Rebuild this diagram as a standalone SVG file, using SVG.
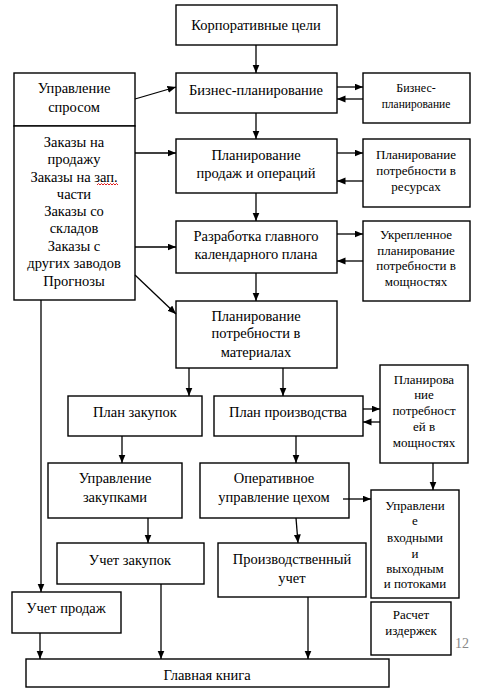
<svg xmlns="http://www.w3.org/2000/svg" width="494" height="700" viewBox="0 0 494 700">
<style>
.b{fill:#fff;stroke:#000;stroke-width:1.4}
.t{font-family:"Liberation Serif","Times New Roman",serif;font-size:14.5px;fill:#000;text-anchor:middle}
.s{font-size:13px}
.c line{stroke:#000;stroke-width:1.3}
</style>
<defs>
<marker id="a" markerUnits="userSpaceOnUse" markerWidth="9" markerHeight="8" refX="8.5" refY="3.5" orient="auto">
<path d="M0,0 L8.5,3.5 L0,7 z" fill="#000"/>
</marker>
</defs>
<rect width="494" height="700" fill="#fff"/>
<g id="corp"><rect class="b" x="176" y="5" width="161" height="40"/><text class="t" x="256" y="30">Корпоративные цели</text></g>
<g id="demand"><rect class="b" x="14" y="73" width="121" height="53"/><text class="t" x="74" y="93">Управление</text><text class="t" x="74" y="112">спросом</text></g>
<g id="orders"><rect class="b" x="14" y="126" width="121" height="174"/>
<text class="t" x="74" y="147">Заказы на</text><text class="t" x="74" y="164">продажу</text><text class="t" x="74" y="182">Заказы на зап.</text><text class="t" x="74" y="199">части</text><text class="t" x="74" y="216">Заказы со</text><text class="t" x="74" y="233">складов</text><text class="t" x="74" y="251">Заказы с</text><text class="t" x="74" y="268">других заводов</text><text class="t" x="74" y="286">Прогнозы</text>
<path d="M97,185 l1.5,-1.5 l1.5,1.5 l1.5,-1.5 l1.5,1.5 l1.5,-1.5 l1.5,1.5 l1.5,-1.5 l1.5,1.5 l1.5,-1.5 l1.5,1.5 l1.5,-1.5 l1.5,1.5 l1.5,-1.5 l1.5,1.5" fill="none" stroke="#d00" stroke-width="0.9"/></g>
<g id="bp"><rect class="b" x="176" y="73" width="161" height="40"/><text class="t" x="256" y="95">Бизнес-планирование</text></g>
<g id="bp2"><rect class="b" x="363" y="73" width="107" height="50"/><text class="t" x="416" y="92" style="font-size:12px">Бизнес-</text><text class="t" x="416" y="108" style="font-size:11.5px">планирование</text></g>
<g id="sop"><rect class="b" x="176" y="139" width="161" height="54"/><text class="t" x="256" y="160">Планирование</text><text class="t" x="256" y="178">продаж и операций</text></g>
<g id="rrp"><rect class="b" x="363" y="139" width="107" height="68"/><text class="t s" x="416" y="159">Планирование</text><text class="t s" x="416" y="175">потребности  в</text><text class="t s" x="416" y="191">ресурсах</text></g>
<g id="mps"><rect class="b" x="176" y="221" width="161" height="52"/><text class="t" x="256" y="241">Разработка главного</text><text class="t" x="256" y="259">календарного плана</text></g>
<g id="rccp"><rect class="b" x="363" y="221" width="107" height="80"/><text class="t s" x="416" y="239">Укрепленное</text><text class="t s" x="416" y="255">планирование</text><text class="t s" x="416" y="270">потребности  в</text><text class="t s" x="416" y="286">мощностях</text></g>
<g id="mrp"><rect class="b" x="176" y="301" width="161" height="67"/><text class="t" x="256" y="321">Планирование</text><text class="t" x="256" y="338">потребности в</text><text class="t" x="256" y="357">материалах</text></g>
<g id="purchplan"><rect class="b" x="68" y="396" width="134" height="40"/><text class="t" x="135" y="417">План закупок</text></g>
<g id="prodplan"><rect class="b" x="214" y="396" width="149" height="40"/><text class="t" x="288" y="417">План производства</text></g>
<g id="crp"><rect class="b" x="380" y="365" width="88" height="98"/><text class="t s" x="424" y="384">Планирова</text><text class="t s" x="424" y="399">ние</text><text class="t s" x="424" y="415">потребност</text><text class="t s" x="424" y="431">ей в</text><text class="t s" x="424" y="447">мощностях</text></g>
<g id="purchmgmt"><rect class="b" x="48" y="463" width="134" height="55"/><text class="t" x="115" y="483">Управление</text><text class="t" x="115" y="502">закупками</text></g>
<g id="shop"><rect class="b" x="200" y="463" width="149" height="55"/><text class="t" x="274" y="483">Оперативное</text><text class="t" x="274" y="502">управление цехом</text></g>
<g id="io"><rect class="b" x="371" y="490" width="88" height="108"/><text class="t s" x="415" y="510">Управлени</text><text class="t s" x="415" y="525">е</text><text class="t s" x="415" y="542">входными</text><text class="t s" x="415" y="558">и</text><text class="t s" x="415" y="573">выходным</text><text class="t s" x="415" y="588">и потоками</text></g>
<g id="purchacc"><rect class="b" x="57" y="543" width="147" height="41"/><text class="t" x="130" y="565">Учет закупок</text></g>
<g id="prodacc"><rect class="b" x="218" y="543" width="148" height="54"/><text class="t" x="292" y="564">Производственный</text><text class="t" x="292" y="583">учет</text></g>
<g id="salesacc"><rect class="b" x="12" y="592" width="109" height="41"/><text class="t" x="66" y="613">Учет продаж</text></g>
<g id="cost"><rect class="b" x="371" y="602" width="80" height="53"/><text class="t s" x="411" y="619">Расчет</text><text class="t s" x="411" y="635">издержек</text></g>
<g id="gl"><rect class="b" x="26" y="659" width="363" height="28"/><text class="t" x="207" y="680">Главная книга</text></g>
<text x="462" y="648" class="t" style="font-size:14px;fill:#888">12</text>
<g id="connectors" class="c">
<line x1="256" y1="45" x2="256" y2="73" marker-end="url(#a)"/>
<line x1="135" y1="99" x2="176" y2="87" marker-end="url(#a)"/>
<line x1="337" y1="87" x2="363" y2="87" marker-end="url(#a)"/>
<line x1="363" y1="99" x2="337" y2="99" marker-end="url(#a)"/>
<line x1="256" y1="113" x2="256" y2="139" marker-end="url(#a)"/>
<line x1="135" y1="153" x2="176" y2="153" marker-end="url(#a)"/>
<line x1="337" y1="153" x2="363" y2="153" marker-end="url(#a)"/>
<line x1="363" y1="181" x2="337" y2="181" marker-end="url(#a)"/>
<line x1="256" y1="193" x2="256" y2="221" marker-end="url(#a)"/>
<line x1="135" y1="247" x2="176" y2="247" marker-end="url(#a)"/>
<line x1="337" y1="234" x2="363" y2="234" marker-end="url(#a)"/>
<line x1="363" y1="261" x2="337" y2="261" marker-end="url(#a)"/>
<line x1="256" y1="273" x2="256" y2="301" marker-end="url(#a)"/>
<line x1="135" y1="275" x2="176" y2="314" marker-end="url(#a)"/>
<line x1="41" y1="300" x2="41" y2="592" marker-end="url(#a)"/>
<line x1="189" y1="368" x2="189" y2="396" marker-end="url(#a)"/>
<line x1="283" y1="368" x2="283" y2="396" marker-end="url(#a)"/>
<line x1="363" y1="409" x2="380" y2="409" marker-end="url(#a)"/>
<line x1="380" y1="422" x2="363" y2="422" marker-end="url(#a)"/>
<line x1="122" y1="436" x2="122" y2="463" marker-end="url(#a)"/>
<line x1="296" y1="436" x2="296" y2="463" marker-end="url(#a)"/>
<line x1="433" y1="463" x2="433" y2="490" marker-end="url(#a)"/>
<line x1="343" y1="499" x2="371" y2="499" marker-end="url(#a)"/>
<line x1="148" y1="518" x2="148" y2="543" marker-end="url(#a)"/>
<line x1="296" y1="518" x2="298" y2="543" marker-end="url(#a)"/>
<line x1="40" y1="633" x2="40" y2="659" marker-end="url(#a)"/>
<line x1="161" y1="584" x2="161" y2="659" marker-end="url(#a)"/>
<line x1="308" y1="597" x2="308" y2="659" marker-end="url(#a)"/>
</g>
</svg>
